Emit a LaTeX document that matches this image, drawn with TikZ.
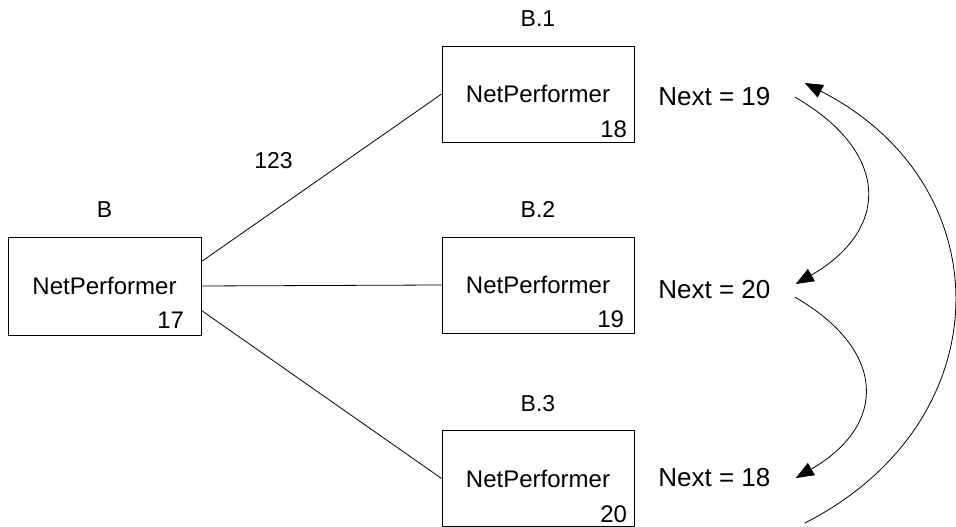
\documentclass[tikz,border=0pt]{standalone}
\usepackage{fontspec}
\setmainfont{Liberation Sans}
\usetikzlibrary{positioning,arrows.meta}

\begin{document}
\begin{tikzpicture}[x=1pt,y=1pt,line width=0.8pt,>={Triangle[length=18pt,width=14pt]},
    unit/.style={draw,minimum width=192pt,minimum height=96pt,inner sep=0pt,font=\fontsize{24}{28}\selectfont},
    tag/.style={inner sep=0pt,font=\fontsize{23}{27}\selectfont},
    num/.style={anchor=base east,inner sep=0pt,font=\fontsize{24}{28}\selectfont},
    nxt/.style={anchor=base west,inner sep=0pt,font=\fontsize{26}{30}\selectfont}]

    \useasboundingbox (0,0) rectangle (956,527);

    % The boxes
    \node [unit,minimum width=193pt,minimum height=98pt] at (104.5,241) (b) {NetPerformer};
    \node [unit] at (538,433) (b1) {NetPerformer};
    \node [unit] at (538,242) (b2) {NetPerformer};
    \node [unit] at (538,48.5) (b3) {NetPerformer};

    \node [tag,above=19pt of b] (bl) {B};
    \node [tag,above=19pt of b1] (b1l) {B.1};
    \node [tag,above=19pt of b2] (b2l) {B.2};
    \node [tag,above=18pt of b3] (b3l) {B.3};

    \node [num] at ([shift={(-17pt,7pt)}]b.south east) (bn) {17};
    \node [num] at ([shift={(-7pt,5pt)}]b1.south east) (b1n) {18};
    \node [num] at ([shift={(-10pt,6pt)}]b2.south east) (b2n) {19};
    \node [num] at ([shift={(-7pt,4pt)}]b3.south east) (b3n) {20};

    \node [tag] at (273.5,366) (cost) {123};

    \node [nxt] at (658,421) (n1) {Next = 19};
    \node [nxt] at (658,228) (n2) {Next = 20};
    \node [nxt] at (658,40) (n3) {Next = 18};

    % Links
    \draw ([yshift=-25pt]b.north east) -- (b1.west);
    \draw (b.east) -- (b2.west);
    \draw ([yshift=25pt]b.south east) -- (b3.west);

    % Next pointers
    \draw [->] ([xshift=24pt]n1.east) to[out=-30,in=30,looseness=1.5] ([shift={(25pt,6pt)}]n2.east);
    \draw [->] ([shift={(24pt,-7pt)}]n2.east) to[out=-30,in=30,looseness=1.5] ([xshift=25pt]n3.east);
    \draw [->] ([shift={(34pt,-45pt)}]n3.east) to[out=27,in=-27,looseness=1.3] ([shift={(34pt,14pt)}]n1.east);
\end{tikzpicture}
\end{document}
